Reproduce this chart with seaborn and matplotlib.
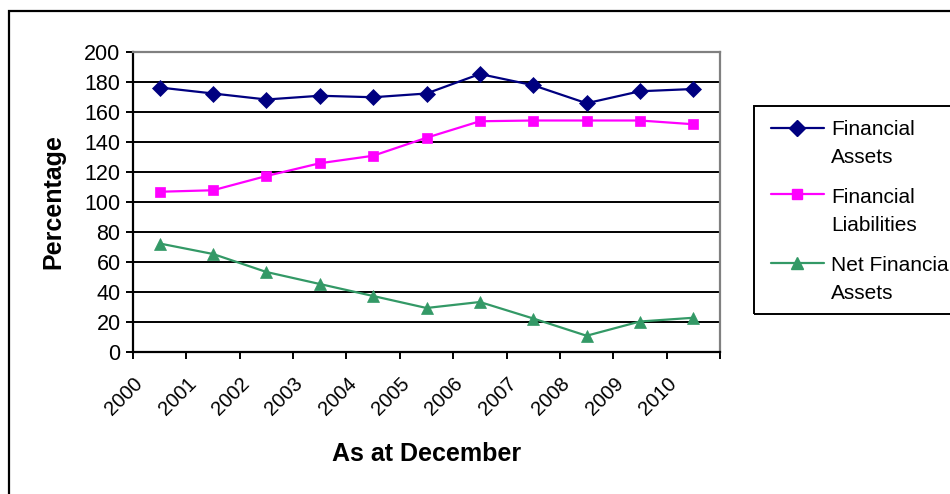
import numpy as np
import pandas as pd
import matplotlib
matplotlib.use("Agg")
import matplotlib.pyplot as plt
import matplotlib.transforms as mtransforms
from matplotlib.lines import Line2D
from matplotlib.patches import Rectangle
import seaborn as sns

# Household balance sheet ratios, as at December of each year
years = ["2000", "2001", "2002", "2003", "2004", "2005",
         "2006", "2007", "2008", "2009", "2010"]
financial_assets = [176, 172, 168, 170.5, 169.5, 172, 185, 177.5, 165.5, 173.5, 175]
financial_liabilities = [106.5, 107.5, 117, 125.5, 130.5, 142.5, 153.5, 154, 154, 154, 151.5]
net_financial_assets = [72, 65, 53, 45, 37, 29, 33, 22, 10.5, 20, 22.5]

series_names = ["Financial Assets", "Financial Liabilities", "Net Financial Assets"]
legend_lines = [["Financial", "Assets"], ["Financial", "Liabilities"], ["Net Financial", "Assets"]]
series_values = [financial_assets, financial_liabilities, net_financial_assets]
colors = ["#000080", "#FF00FF", "#339966"]
markers = ["D", "s", "^"]
marker_sizes = [8.5, 7.5, 8.5]

y_ticks = list(range(0, 201, 20))

sns.set_style("white")
plt.rcParams["font.family"] = ["Liberation Sans", "DejaVu Sans"]
plt.rcParams["text.color"] = "black"
plt.rcParams["axes.labelcolor"] = "black"
plt.rcParams["xtick.color"] = "black"
plt.rcParams["ytick.color"] = "black"

W, H = 950, 494
fig = plt.figure(figsize=(W / 100, H / 100), dpi=100)
fig.patch.set_facecolor("white")

# axes placed by pixel box: left 133, right 720, top 51.5, bottom 351.5
ax = fig.add_axes([133 / W, 1 - 351.5 / H, 587 / W, 300 / H])
ax.set_facecolor("white")

x = np.arange(len(years))
frames = []
for name, vals in zip(series_names, series_values):
    frames.append(pd.DataFrame({"pos": x, "value": vals, "series": name}))
df = pd.concat(frames, ignore_index=True)

for name, color, mk, ms in zip(series_names, colors, markers, marker_sizes):
    sub = df[df["series"] == name]
    sns.lineplot(data=sub, x="pos", y="value", ax=ax, color=color,
                 marker=mk, markersize=ms, markeredgecolor=color,
                 markeredgewidth=0.5, linewidth=1.6, legend=False, zorder=3)

ax.set_xlim(-0.5, len(years) - 0.5)
ax.set_ylim(0, 200)

# horizontal gridlines
ax.set_yticks(y_ticks)
ax.yaxis.grid(True, color="black", linewidth=1.4, zorder=1)
ax.xaxis.grid(False)
ax.set_axisbelow(True)

# spines: black axes, grey plot-area border
for side in ["left", "bottom"]:
    ax.spines[side].set_color("black")
    ax.spines[side].set_linewidth(1.6)
for side in ["top", "right"]:
    ax.spines[side].set_color("#808080")
    ax.spines[side].set_linewidth(1.6)

ax.tick_params(axis="y", which="major", direction="out", length=5, width=1.4,
               color="black", labelcolor="black", labelsize=15.5, pad=4, left=True)
ax.set_yticklabels([str(v) for v in y_ticks])

# category labels centred on points, tick marks on boundaries
ax.set_xticks(x)
ax.set_xticklabels(years, rotation=45, ha="right", va="top", fontsize=14.5,
                   color="black")
ax.set_xticks(np.arange(-0.5, len(years)), minor=True)
ax.tick_params(axis="x", which="major", length=0, pad=16, bottom=True)
ax.tick_params(axis="x", which="minor", direction="out", length=5, width=1.4,
               color="black", bottom=True)
shift = mtransforms.ScaledTranslation(-13 / 100, 0, fig.dpi_scale_trans)
for lbl in ax.get_xticklabels():
    lbl.set_transform(lbl.get_transform() + shift)

ax.set_xlabel("As at December", fontsize=18, fontweight="bold", color="black")
ax.xaxis.set_label_coords(0.5, -0.342)
ax.xaxis.label.set_va("center")
ax.set_ylabel("Percentage", fontsize=18, fontweight="bold", color="black")
ax.yaxis.set_label_coords(-0.136, 0.5)
ax.yaxis.label.set_va("center")


def px(xp, yp):
    return xp / W, 1 - yp / H


# chart frame (runs off the right and bottom edges)
fx, fy = px(9, 11)
fig.add_artist(Rectangle((fx, -0.1), 1.2, fy + 0.1, transform=fig.transFigure,
                         fill=False, edgecolor="black", linewidth=1.6))

# legend box and entries
lx0, ly0 = px(754, 314)
lx1, ly1 = px(1000, 106)
fig.add_artist(Rectangle((lx0, ly0), lx1 - lx0, ly1 - ly0, transform=fig.transFigure,
                         fill=False, edgecolor="black", linewidth=1.4))
handle_y = [127.5, 194.5, 263]
text_baselines = [(135, 162.7), (203.3, 230.7), (271, 299)]
for lines, color, mk, ms, hy, (b1, b2) in zip(legend_lines, colors, markers, marker_sizes,
                                              handle_y, text_baselines):
    xa, ya = px(771, hy)
    xb, _ = px(824, hy)
    xm, _ = px(797, hy)
    fig.add_artist(Line2D([xa, xb], [ya, ya], transform=fig.transFigure,
                          color=color, linewidth=1.6))
    fig.add_artist(Line2D([xm], [ya], transform=fig.transFigure, color=color,
                          marker=mk, markersize=ms, markeredgecolor=color,
                          linestyle="none"))
    for txt, base in zip(lines, (b1, b2)):
        tx, ty = px(831, base)
        fig.text(tx, ty, txt, fontsize=15, va="baseline", ha="left", color="black")

fig.savefig("out.png", dpi=100, facecolor="white")
